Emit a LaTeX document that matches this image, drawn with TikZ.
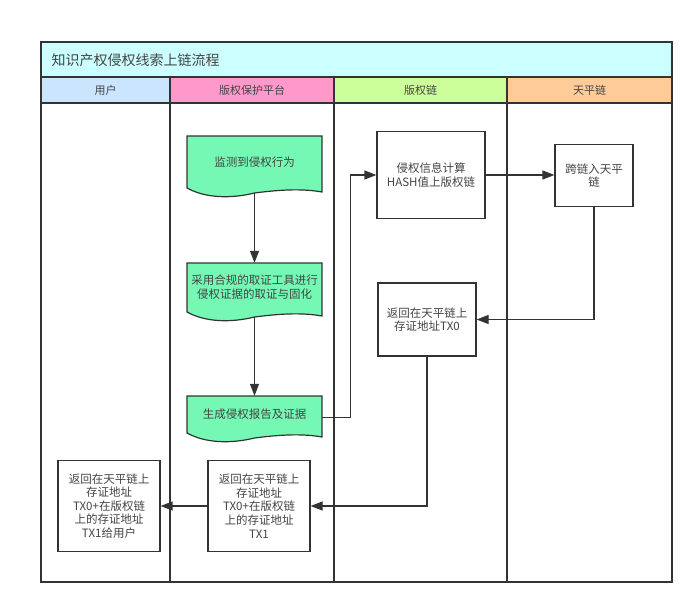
\documentclass[tikz,border=0pt]{standalone}
\usepackage{fontspec}
\setmainfont{Noto Sans CJK SC}
\usetikzlibrary{arrows.meta,calc}

\definecolor{linecol}{HTML}{333333}
\definecolor{textcol}{HTML}{444444}
\definecolor{titlecol}{HTML}{CCFFFF}
\definecolor{usercol}{HTML}{CCE5FF}
\definecolor{platcol}{HTML}{FF99CC}
\definecolor{copycol}{HTML}{CCFF99}
\definecolor{tianpcol}{HTML}{FFCC99}
\definecolor{doccol}{HTML}{75F8B3}

\tikzset{
  lane/.style={draw=linecol, line width=1.5pt},
  headtext/.style={text=textcol, font=\fontsize{11}{13}\selectfont},
  box/.style={draw=linecol, line width=1.2pt, fill=white, align=center,
    text=textcol, font=\fontsize{11.5}{13.6}\selectfont, inner sep=2pt},
  docline/.style={draw=linecol, line width=1.2pt, fill=doccol},
  doctext/.style={align=center, text=textcol, font=\fontsize{11.5}{14}\selectfont,
    minimum width=135pt, inner sep=0pt},
  arr/.style={draw=linecol, line width=1.2pt, -{Triangle[length=12pt,width=9pt]}},
}

% document shape: name, left x, top y, bottom y (left end), text
\newcommand\docnode[5]{%
  \filldraw[docline] (#2,#3) -- (#2+135,#3) -- (#2+135,#4+4)
    .. controls (#2+118,#4+1) and (#2+98,#4+1) .. (#2+67.5,#4+5)
    .. controls (#2+43,#4+11) and (#2+18,#4+10) .. (#2,#4) -- cycle;
  \pgfmathsetmacro\dochgt{#4-#3}
  \node[doctext, minimum height=\dochgt pt] (#1) at (#2+67.5,{(#3+#4)/2}) {#5};
}

\begin{document}
\begin{tikzpicture}[x=1pt,y=-1pt]
    \useasboundingbox (0,0) rectangle (700,610);

    % title and lanes
    \filldraw[lane, fill=titlecol] (41,42) rectangle (672,77);
    \node[anchor=west, text=textcol, font=\fontsize{14}{16}\selectfont] (title) at (48,60) {知识产权侵权线索上链流程};

    \foreach \xa/\xb/\col/\nm/\txt in {41/170/usercol/huser/用户,
                                      170/334/platcol/hplat/版权保护平台,
                                      334/507/copycol/hcopy/版权链,
                                      507/672/tianpcol/htianp/天平链} {
        \filldraw[lane, fill=\col] (\xa,77) rectangle (\xb,103);
        \node[headtext] (\nm) at ({(\xa+\xb)/2},90) {\txt};
        \draw[lane] (\xa,103) rectangle (\xb,582);
    }

    % steps
    \docnode{d1}{187}{136}{188}{监测到侵权行为}
    \docnode{d2}{187}{263}{312}{采用合规的取证工具进行\\侵权证据的取证与固化}
    \docnode{d3}{187}{396}{433}{生成侵权报告及证据}

    \node[box, minimum width=108pt, minimum height=87pt] (hash) at (431,175) {侵权信息计算\\HASH值上版权链};
    \node[box, minimum width=78pt, minimum height=62pt] (kua) at (594,175.5) {跨链入天平\\链};
    \node[box, minimum width=98pt, minimum height=73pt] (tx0) at (427,319.5) {返回在天平链上\\存证地址TX0};
    \node[box, minimum width=102pt, minimum height=91pt] (tx1) at (259,506) {返回在天平链上\\存证地址\\TX0+在版权链\\上的存证地址\\TX1};
    \node[box, minimum width=102pt, minimum height=91pt] (user) at (109,506) {返回在天平链上\\存证地址\\TX0+在版权链\\上的存证地址\\TX1给用户};

    % connectors
    \draw[arr] ([yshift=-5pt]d1.south) -- (d2.north);
    \draw[arr] ([yshift=-5pt]d2.south) -- (d3.north);
    \draw[arr] ([yshift=-3pt]d3.east) -- ++(28,0) |- (hash.west);
    \draw[arr] (hash.east) -- (hash.east -| kua.west);
    \draw[arr] (kua.south) |- (tx0.east);
    \draw[arr] (tx0.south) |- (tx1.east);
    \draw[arr] (tx1.west) -- (user.east);
\end{tikzpicture}
\end{document}
